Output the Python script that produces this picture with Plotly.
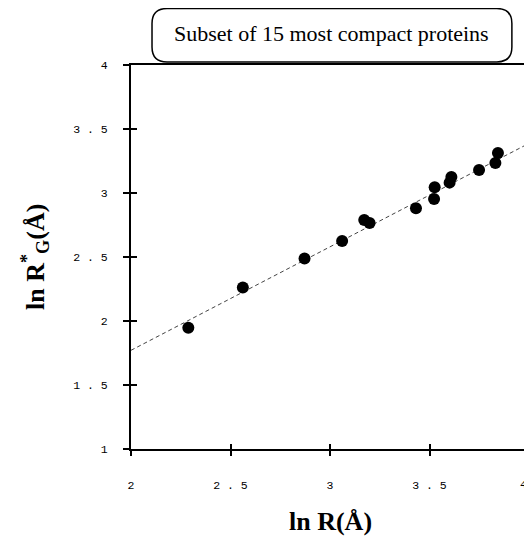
import plotly.graph_objects as go

# ln R vs ln R*_G
ln_r = [2.288, 2.562, 2.872, 3.061, 3.172, 3.199, 3.432, 3.523, 3.526,
        3.601, 3.610, 3.749, 3.831, 3.844]
ln_rg = [1.948, 2.261, 2.488, 2.625, 2.789, 2.766, 2.880, 2.953, 3.045,
         3.081, 3.125, 3.180, 3.234, 3.312]

# regression line end points
fit_x = [2.0, 4.0]
fit_y = [1.771, 3.388]

x_ticks = [2, 2.5, 3, 3.5, 4]
x_tick_text = ["2", "2 . 5", "3", "3 . 5", "4"]
y_ticks = [1, 1.5, 2, 2.5, 3, 3.5, 4]
y_tick_text = ["1", "1 . 5", "2", "2 . 5", "3", "3 . 5", "4"]

title_text = "Subset of 15 most compact proteins"

serif = "Liberation Serif, Times New Roman, serif"
mono = "Liberation Mono, Courier New, monospace"
tick_font = {"family": mono, "size": 11.5, "color": "black"}

fig = go.Figure()
fig.add_trace(go.Scatter(
    x=fit_x, y=fit_y, mode="lines",
    line={"color": "#444", "width": 1, "dash": "4px,3px"},
    showlegend=False, hoverinfo="skip"
))
fig.add_trace(go.Scatter(
    x=ln_r, y=ln_rg, mode="markers",
    marker={"color": "black", "size": 12},
    showlegend=False
))
# empty trace so the overlay axes (inner half of the ticks) get drawn
fig.add_trace(go.Scatter(x=[], y=[], xaxis="x2", yaxis="y2", showlegend=False))

# rounded title box, paper coords
bx0, bx1, by0, by1 = 0.0528, 0.957, 1.008, 1.147
rx, ry = 0.0377, 0.039
box_path = (
    f"M {bx0 + rx},{by0} L {bx1 - rx},{by0} Q {bx1},{by0} {bx1},{by0 + ry} "
    f"L {bx1},{by1 - ry} Q {bx1},{by1} {bx1 - rx},{by1} "
    f"L {bx0 + rx},{by1} Q {bx0},{by1} {bx0},{by1 - ry} "
    f"L {bx0},{by0 + ry} Q {bx0},{by0} {bx0 + rx},{by0} Z"
)

# page body has an 8px margin, so the figure is 8px smaller each way
fig.update_layout(
    width=524,
    height=529,
    margin={"l": 123, "r": 3, "t": 57, "b": 88},
    plot_bgcolor="white",
    paper_bgcolor="white",
    xaxis={
        "range": [2, 4], "tickvals": x_ticks,
        # last label sits at the figure edge, drawn as an annotation below
        "ticktext": x_tick_text[:-1] + [""],
        "ticks": "outside", "ticklen": 5, "tickwidth": 2, "tickcolor": "black",
        "showline": True, "linewidth": 2, "linecolor": "black", "mirror": True,
        "showgrid": False, "zeroline": False, "automargin": False,
        "tickfont": tick_font, "ticklabelstandoff": 19,
    },
    yaxis={
        "range": [1, 4], "tickvals": y_ticks, "ticktext": y_tick_text,
        "ticks": "outside", "ticklen": 6, "tickwidth": 2, "tickcolor": "black",
        "showline": True, "linewidth": 2, "linecolor": "black", "mirror": True,
        "showgrid": False, "zeroline": False, "automargin": False,
        "tickfont": tick_font, "ticklabelstandoff": 13,
    },
    xaxis2={
        "range": [2, 4], "overlaying": "x", "anchor": "y", "side": "bottom",
        "tickvals": x_ticks, "ticks": "inside", "ticklen": 5, "tickwidth": 2,
        "tickcolor": "black", "showticklabels": False, "showline": False,
        "showgrid": False, "zeroline": False, "automargin": False,
    },
    yaxis2={
        "range": [1, 4], "overlaying": "y", "anchor": "x", "side": "left",
        "tickvals": y_ticks, "ticks": "inside", "ticklen": 6, "tickwidth": 2,
        "tickcolor": "black", "showticklabels": False, "showline": False,
        "showgrid": False, "zeroline": False, "automargin": False,
    },
    shapes=[{
        "type": "path", "xref": "paper", "yref": "paper", "path": box_path,
        "line": {"color": "black", "width": 1.5}, "fillcolor": "white",
    }],
    annotations=[
        {"text": title_text, "xref": "paper", "yref": "paper",
         "x": 0.505, "y": 1.081, "xanchor": "center", "yanchor": "middle",
         "showarrow": False,
         "font": {"family": serif, "size": 22, "color": "black"}},
        {"text": x_tick_text[-1], "xref": "x", "yref": "paper",
         "x": x_ticks[-1], "y": 0, "yshift": -35, "xanchor": "right",
         "yanchor": "middle", "showarrow": False, "font": tick_font},
        {"text": "<b>ln R(Å)</b>", "xref": "paper", "yref": "paper",
         "x": 0.5, "y": 0, "yshift": -72, "xanchor": "center",
         "yanchor": "middle", "showarrow": False,
         "font": {"family": serif, "size": 26, "color": "black"}},
        {"text": "<b>ln R<sup>*</sup><sub>G</sub>(Å)</b>", "xref": "paper",
         "yref": "paper", "x": 0, "y": 0.5, "xshift": -96, "textangle": -90,
         "xanchor": "center", "yanchor": "middle", "showarrow": False,
         "font": {"family": serif, "size": 26, "color": "black"}},
    ],
)

fig.write_html("out.html")
